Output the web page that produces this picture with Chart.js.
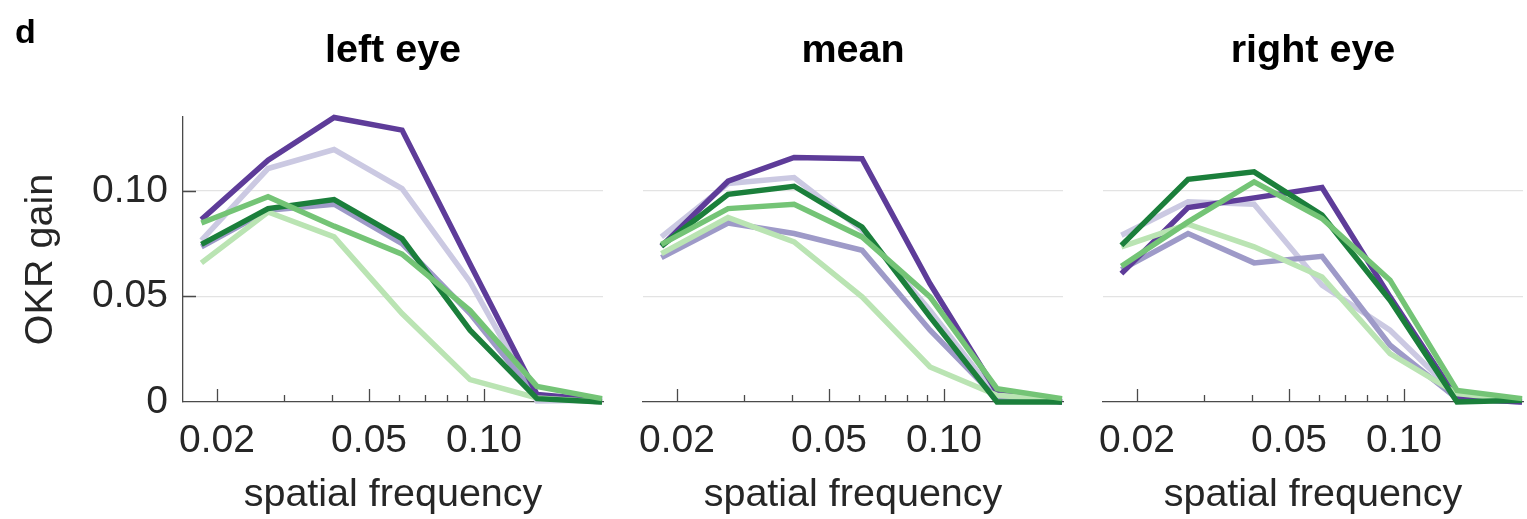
<!DOCTYPE html>
<html>
<head>
<meta charset="utf-8">
<script src="https://cdn.jsdelivr.net/npm/chart.js@4.4.1/dist/chart.umd.min.js"></script>
<style>
  html, body { margin: 0; padding: 0; background: #fff; }
  #wrap { position: relative; width: 1527px; height: 519px; }
  #wrap canvas { position: absolute; left: 0; top: 0; }
</style>
</head>
<body>
<div id="wrap">
  <canvas id="c1" width="1527" height="519"></canvas>
  <canvas id="c2" width="1527" height="519"></canvas>
  <canvas id="c3" width="1527" height="519"></canvas>
</div>
<script>
// spatial frequencies (cycles/deg)
var freqs = [0.0182, 0.0272, 0.0405, 0.061, 0.0919, 0.1376, 0.2036];
var xTickVals = [0.02, 0.03, 0.04, 0.05, 0.06, 0.07, 0.08, 0.09, 0.1];
var xLabelVals = [0.02, 0.05, 0.1];
var yTickVals = [0, 0.05, 0.1];

// left eye
var leftPurpleDark  = [0.0864, 0.1145, 0.1348, 0.1288, 0.0654, 0.0036, 0.0008];
var leftPurpleLight = [0.0766, 0.1106, 0.1196, 0.1011, 0.0569, 0.0005, 0.0008];
var leftPurpleMid   = [0.0735, 0.0908, 0.0937, 0.0750, 0.0419, 0.0024, 0.0000];
var leftGreenDark   = [0.0747, 0.0916, 0.0959, 0.0774, 0.0340, 0.0016, 0.0000];
var leftGreenMid    = [0.0848, 0.0972, 0.0833, 0.0700, 0.0434, 0.0074, 0.0016];
var leftGreenLight  = [0.0659, 0.0900, 0.0782, 0.0419, 0.0106, 0.0019, 0.0000];

// mean
var meanPurpleDark  = [0.0738, 0.1046, 0.1158, 0.1152, 0.0560, 0.0047, 0.0000];
var meanPurpleLight = [0.0782, 0.1035, 0.1063, 0.0814, 0.0434, 0.0024, 0.0008];
var meanPurpleMid   = [0.0684, 0.0848, 0.0798, 0.0719, 0.0340, 0.0016, 0.0000];
var meanGreenDark   = [0.0739, 0.0984, 0.1022, 0.0829, 0.0403, 0.0000, 0.0000];
var meanGreenMid    = [0.0747, 0.0916, 0.0937, 0.0782, 0.0498, 0.0063, 0.0016];
var meanGreenLight  = [0.0703, 0.0874, 0.0758, 0.0498, 0.0166, 0.0032, 0.0008];

// right eye
var rightPurpleDark  = [0.0608, 0.0921, 0.0967, 0.1016, 0.0498, 0.0016, 0.0000];
var rightPurpleLight = [0.0790, 0.0948, 0.0937, 0.0553, 0.0340, 0.0032, 0.0008];
var rightPurpleMid   = [0.0627, 0.0798, 0.0659, 0.0690, 0.0269, 0.0016, 0.0000];
var rightGreenDark   = [0.0742, 0.1055, 0.1090, 0.0885, 0.0482, 0.0000, 0.0008];
var rightGreenMid    = [0.0643, 0.0853, 0.1043, 0.0869, 0.0577, 0.0055, 0.0016];
var rightGreenLight  = [0.0735, 0.0842, 0.0735, 0.0592, 0.0229, 0.0040, 0.0008];

var FONT = "'Liberation Sans', Arial, Helvetica, sans-serif";
var textColor = '#262626';
var axisColor = '#4a4a4a';

function pts(vals) {
  return vals.map(function (v, i) { return { x: freqs[i], y: v }; });
}

function ds(vals, color, order) {
  return {
    data: pts(vals),
    borderColor: color,
    backgroundColor: color,
    borderWidth: 5.5,
    pointRadius: 0,
    tension: 0,
    fill: false,
    clip: false,
    order: order
  };
}

// title text + inward tick marks
var panelDeco = {
  id: 'panelDeco',
  beforeDatasetsDraw: function (chart, args, opts) {
    var ctx = chart.ctx, a = chart.chartArea, x = chart.scales.x, y = chart.scales.y;
    ctx.save();
    ctx.strokeStyle = axisColor;
    ctx.lineWidth = 1.3;
    ctx.beginPath();
    xTickVals.forEach(function (v) {
      var px = Math.round(x.getPixelForValue(v)) + 0.5;
      var len = xLabelVals.indexOf(v) >= 0 ? 13 : 7;
      ctx.moveTo(px, a.bottom);
      ctx.lineTo(px, a.bottom - len);
    });
    if (opts.yTicks) {
      yTickVals.forEach(function (v) {
        if (v === 0) return;
        var py = Math.round(y.getPixelForValue(v)) + 0.5;
        ctx.moveTo(a.left, py);
        ctx.lineTo(a.left + 13, py);
      });
    }
    ctx.stroke();
    ctx.restore();
  },
  afterDraw: function (chart, args, opts) {
    var ctx = chart.ctx, a = chart.chartArea;
    ctx.save();
    ctx.fillStyle = '#000';
    ctx.textBaseline = 'alphabetic';
    ctx.textAlign = 'center';
    ctx.font = 'bold 39.5px ' + FONT;
    ctx.fillText(opts.title, (a.left + a.right) / 2, 62);
    if (opts.letter) {
      ctx.textAlign = 'left';
      ctx.font = 'bold 34px ' + FONT;
      ctx.fillText(opts.letter, 15, 43);
    }
    ctx.restore();
  }
};

function makePanel(id, title, series, left, right, first) {
  new Chart(document.getElementById(id), {
    type: 'line',
    data: {
      datasets: [
        ds(series[0], '#5e3c99', 3),
        ds(series[1], '#cbc9e2', 5),
        ds(series[2], '#9e9ac8', 4),
        ds(series[3], '#1b7f3b', 1),
        ds(series[4], '#74c476', 0),
        ds(series[5], '#bae4b3', 2)
      ]
    },
    options: {
      responsive: false,
      animation: false,
      events: [],
      layout: { padding: { left: first ? 0 : left, right: 1527 - right, top: 117, bottom: 0 } },
      plugins: {
        legend: { display: false },
        tooltip: { enabled: false },
        panelDeco: { title: title, yTicks: first, letter: first ? 'd' : null }
      },
      scales: {
        x: {
          type: 'logarithmic',
          min: 0.01629,
          max: 0.2048,
          afterBuildTicks: function (s) {
            s.ticks = xTickVals.map(function (v) { return { value: v }; });
          },
          afterFit: function (s) { s.height = 117; },
          grid: { display: false, drawTicks: false },
          border: { display: true, color: axisColor, width: 1.3 },
          ticks: {
            autoSkip: false,
            maxRotation: 0,
            padding: 16,
            color: textColor,
            font: { family: FONT, size: 39 },
            callback: function (v) {
              if (xLabelVals.indexOf(v) < 0) return '';
              return v.toFixed(2);
            }
          },
          title: {
            display: true,
            text: 'spatial frequency',
            color: textColor,
            font: { family: FONT, size: 39.5 },
            padding: { top: 0, bottom: 0 }
          }
        },
        y: {
          min: 0,
          max: 0.135,
          afterBuildTicks: function (s) {
            s.ticks = yTickVals.map(function (v) { return { value: v }; });
          },
          afterFit: function (s) { s.width = first ? 183 : 0; },
          grid: {
            drawTicks: false,
            lineWidth: 1.3,
            color: function (c) { return c.tick && c.tick.value === 0 ? 'rgba(0,0,0,0)' : '#e3e3e3'; }
          },
          border: { display: first, color: axisColor, width: 1.3 },
          ticks: {
            display: first,
            padding: 15,
            color: textColor,
            font: { family: FONT, size: 39 },
            callback: function (v) { return v === 0 ? '0' : v.toFixed(2); }
          },
          title: {
            display: first,
            text: 'OKR gain',
            color: textColor,
            font: { family: FONT, size: 39.5 },
            padding: { top: 17, bottom: 0 }
          }
        }
      }
    },
    plugins: [panelDeco]
  });
}

makePanel('c1', 'left eye',
  [leftPurpleDark, leftPurpleLight, leftPurpleMid, leftGreenDark, leftGreenMid, leftGreenLight], 0, 603, true);
makePanel('c2', 'mean',
  [meanPurpleDark, meanPurpleLight, meanPurpleMid, meanGreenDark, meanGreenMid, meanGreenLight], 643, 1063, false);
makePanel('c3', 'right eye',
  [rightPurpleDark, rightPurpleLight, rightPurpleMid, rightGreenDark, rightGreenMid, rightGreenLight], 1103, 1523, false);
</script>
</body>
</html>
